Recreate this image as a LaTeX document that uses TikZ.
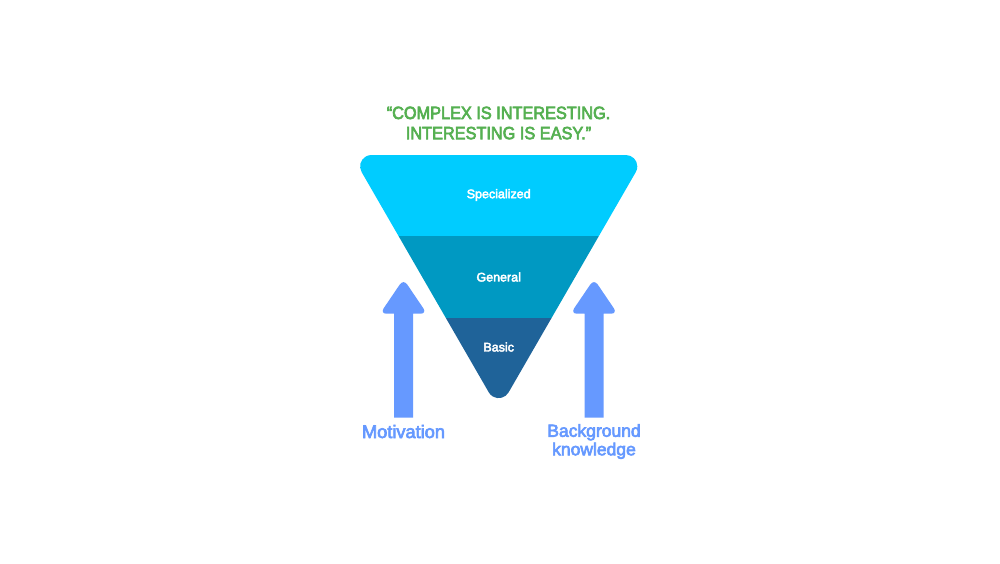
\documentclass[tikz,border=0pt]{standalone}
\usepackage{fontspec}
\setmainfont[FakeBold=3.5]{Liberation Sans}
\newfontfamily\narrowfont[FakeBold=3.5,FakeStretch=0.915]{Liberation Sans}
\definecolor{cyanband}{HTML}{00CCFF}
\definecolor{midband}{HTML}{0099C2}
\definecolor{lowband}{HTML}{1F6399}
\definecolor{arrowblue}{HTML}{6699FF}
\definecolor{quotegreen}{HTML}{55B051}
\tikzset{
  px/.style={x=1pt,y=-1pt},
  bandtext/.style={text=white,font=\fontsize{12.5}{14}\selectfont,anchor=center,inner sep=0pt},
  quotetext/.style={text=quotegreen,font=\narrowfont\fontsize{17.8}{20.2}\selectfont,align=center,anchor=center,inner sep=0pt},
  armlabel/.style={text=arrowblue,font=\fontsize{17.5}{18.5}\selectfont,align=center,anchor=center,inner sep=0pt},
  uparrow/.style={fill=arrowblue,draw=none},
}
\newcommand{\uparrowshape}[1]{%
  \fill[uparrow,shift={(#1,0)}]
    (-9.5,417.7) -- (-9.5,313.7) [rounded corners=6.5pt] -- (-23.5,313.7) -- (0,279) -- (23.5,313.7) [sharp corners] -- (9.5,313.7) -- (9.5,417.7) -- cycle;
}
\begin{document}
\begin{tikzpicture}[px]
  \useasboundingbox (0,0) rectangle (1000,563);
  \fill[white] (0,0) rectangle (1000,563);
  \begin{scope}
    \clip (371.5,155) -- (625.9,155)
      arc[start angle=-90,end angle=30,radius=11.4] -- (508.57,392.4)
      arc[start angle=30,end angle=150,radius=11.4] -- (361.63,172.1)
      arc[start angle=150,end angle=270,radius=11.4] -- cycle;
    \fill[cyanband] (340,150) rectangle (660,235.8);
    \fill[midband] (340,235.8) rectangle (660,317.5);
    \fill[lowband] (340,317.5) rectangle (660,415);
  \end{scope}
  \uparrowshape{403.5}
  \uparrowshape{594}
  \node[quotetext] (quote) at (498.5,123) {“COMPLEX IS INTERESTING.\\INTERESTING IS EASY.”};
  \node[bandtext] (spec) at (498.7,195) {Specialized};
  \node[bandtext] (gen) at (498.7,277) {General};
  \node[bandtext] (basic) at (498.7,347) {Basic};
  \node[armlabel,font=\fontsize{18.2}{19}\selectfont] (motiv) at (403.5,431.5) {Motivation};
  \node[armlabel] (back) at (594,441.5) {Background\\knowledge};
\end{tikzpicture}
\end{document}
